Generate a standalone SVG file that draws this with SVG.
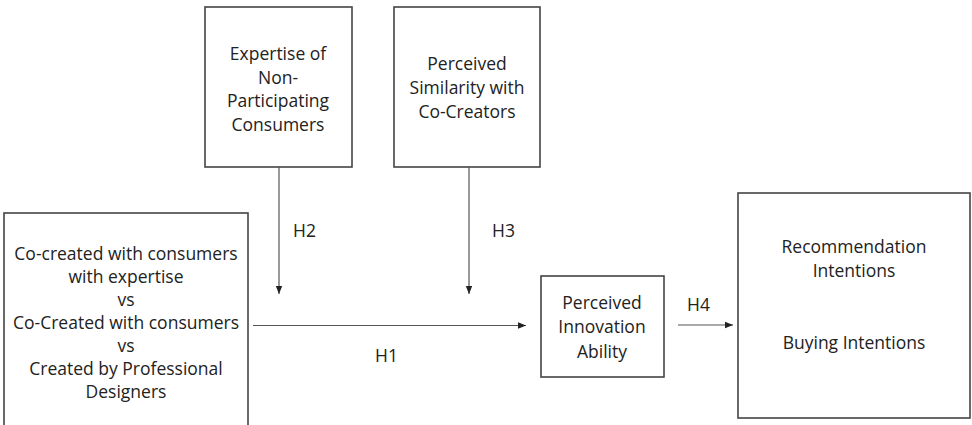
<svg xmlns="http://www.w3.org/2000/svg" width="972" height="425" viewBox="0 0 972 425">
<style>
.box{fill:#fff;stroke:#444;stroke-width:1.6}
.t{font-family:"Open Sans","Liberation Sans",sans-serif;font-size:17.5px;fill:#222;text-anchor:middle}
.l{font-family:"Open Sans","Liberation Sans",sans-serif;font-size:17.5px;fill:#222}
.c{stroke:#555;stroke-width:1.2;fill:none}
</style>
<defs>
<marker id="ah" viewBox="0 0 10 10" refX="10" refY="5" markerWidth="8" markerHeight="8" markerUnits="userSpaceOnUse" orient="auto">
<path d="M0,1 L10,5 L0,9 z" fill="#222"/>
</marker>
</defs>
<rect width="972" height="425" fill="#fff"/>
<g id="n-conditions">
<rect class="box" x="4" y="213" width="244" height="216"/>
<text class="t" x="126" y="260">Co-created with consumers</text>
<text class="t" x="126" y="283">with expertise</text>
<text class="t" x="126" y="306">vs</text>
<text class="t" x="126" y="329">Co-Created with consumers</text>
<text class="t" x="126" y="352">vs</text>
<text class="t" x="126" y="375">Created by Professional</text>
<text class="t" x="126" y="398">Designers</text>
</g>
<g id="n-expertise">
<rect class="box" x="205" y="7" width="147" height="160"/>
<text class="t" x="278" y="60">Expertise of</text>
<text class="t" x="278" y="84">Non-</text>
<text class="t" x="278" y="107">Participating</text>
<text class="t" x="278" y="131">Consumers</text>
</g>
<g id="n-similarity">
<rect class="box" x="394" y="7" width="146" height="160"/>
<text class="t" x="467" y="70">Perceived</text>
<text class="t" x="467" y="94">Similarity with</text>
<text class="t" x="467" y="118">Co-Creators</text>
</g>
<g id="n-innovation">
<rect class="box" x="541" y="276" width="123" height="101"/>
<text class="t" x="602" y="309">Perceived</text>
<text class="t" x="602" y="333">Innovation</text>
<text class="t" x="602" y="358">Ability</text>
</g>
<g id="n-intentions">
<rect class="box" x="738" y="193" width="232" height="225"/>
<text class="t" x="854" y="253">Recommendation</text>
<text class="t" x="854" y="277">Intentions</text>
<text class="t" x="854" y="349">Buying Intentions</text>
</g>
<g id="connectors">
<line class="c" x1="279" y1="167" x2="279" y2="294" marker-end="url(#ah)"/>
<line class="c" x1="469" y1="167" x2="469" y2="294" marker-end="url(#ah)"/>
<line class="c" x1="253" y1="325.5" x2="526" y2="325.5" marker-end="url(#ah)"/>
<line class="c" x1="678" y1="325" x2="733" y2="325" marker-end="url(#ah)"/>
<text class="l" x="293" y="237">H2</text>
<text class="l" x="492" y="237">H3</text>
<text class="l" x="375" y="362">H1</text>
<text class="l" x="687" y="311">H4</text>
</g>
</svg>
